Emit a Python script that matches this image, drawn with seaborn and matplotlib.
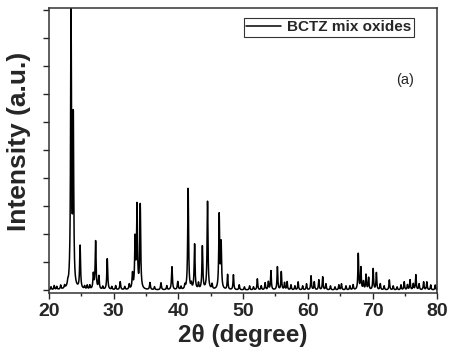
import numpy as np
import pandas as pd
import matplotlib
matplotlib.use('Agg')
import matplotlib.pyplot as plt
import seaborn as sns

pico_pos = [23.4, 23.75, 24.8, 26.85, 27.2, 27.7, 29.0, 31.0, 32.9, 33.3, 33.6, 34.1,
            35.6, 37.3, 39.0, 39.9, 41.5, 42.5, 43.7, 44.5, 46.3, 46.6]
pico_alt = [280, 168, 43, 15, 48, 13, 31, 8, 15, 49, 82, 84,
            7, 7, 23, 8, 101, 45, 43, 88, 74, 45]

ruido_pos = [20.3, 20.8, 21.2, 21.8, 22.4, 22.9, 25.5, 25.9, 26.3, 28.3, 29.7, 30.3,
             31.7, 32.4, 36.3, 38.2, 40.4, 41.0, 42.0, 43.1, 45.2, 47.6, 48.5, 49.4,
             50.2, 51.0, 51.6, 52.2, 52.8, 53.4, 53.9, 54.3, 55.3, 55.9, 56.4, 56.8,
             57.4, 58.0, 58.5, 59.2, 59.8, 60.5, 61.0, 61.7, 62.3, 62.8, 63.5, 64.2,
             64.8, 65.2, 65.9, 66.5, 67.0, 67.8, 68.2, 68.6, 69.0, 69.4, 70.1, 70.6,
             71.2, 71.8, 72.6, 73.2, 73.8, 74.4, 74.9, 75.4, 75.8, 76.3, 76.7, 77.2,
             77.9, 78.4, 79.0, 79.7]
ruido_alt = [3, 4, 3, 4, 3, 4, 3, 4, 4, 3, 3, 4,
             3, 5, 3, 4, 3, 4, 5, 6, 5, 15, 15, 5,
             3, 4, 3, 11, 4, 7, 8, 19, 23, 18, 7, 8,
             5, 4, 8, 4, 6, 14, 8, 10, 13, 6, 4, 3,
             5, 6, 4, 4, 5, 36, 22, 8, 15, 12, 21, 17,
             6, 4, 10, 4, 3, 5, 8, 5, 10, 6, 15, 6,
             8, 8, 5, 5]

BASE = 3
tth = np.arange(20, 80.001, 0.02)
inten = np.full_like(tth, BASE, dtype=float)
for p, h in zip(pico_pos, pico_alt):
    inten += h / (1 + ((tth - p) / 0.08) ** 2)
for p, h in zip(ruido_pos, ruido_alt):
    inten += h / (1 + ((tth - p) / 0.07) ** 2)
df = pd.DataFrame({'2theta': tth, 'I': inten})

# ── Gráfica ─────────────────────────────────────────────────────────────────
sns.set_style('ticks')
plt.rcParams['font.family'] = ['Liberation Sans', 'DejaVu Sans']

fig = plt.figure(figsize=(4.54, 3.51), dpi=100)
ax = fig.add_axes([0.108, 0.165, 0.855, 0.812])
sns.lineplot(data=df, x='2theta', y='I', color='black', linewidth=1.1,
             label='BCTZ mix oxides', ax=ax)

ax.set_xlim(20, 80)
ax.set_ylim(0, 285)
ax.set_xticks(range(20, 81, 10))
ax.set_xticks(range(25, 80, 10), minor=True)
ax.set_yticks(np.arange(BASE, 290, 28))
ax.set_yticklabels([])
ax.tick_params(axis='x', which='major', length=4, width=1, labelsize=14, pad=3)
ax.tick_params(axis='x', which='minor', length=2.5, width=1)
ax.tick_params(axis='y', length=4, width=1)
for lab in ax.get_xticklabels():
    lab.set_fontweight('bold')
for sp in ax.spines.values():
    sp.set_linewidth(1.1); sp.set_color('#333333')

ax.set_xlabel('2θ (degree)', fontsize=17.5, fontweight='bold', labelpad=3)
ax.set_ylabel('Intensity (a.u.)', fontsize=19, fontweight='bold')
ax.yaxis.set_label_coords(-0.047, 0.533)

leg = ax.legend(loc='upper right', bbox_to_anchor=(0.94, 0.965), fontsize=11,
                frameon=True, fancybox=False, edgecolor='black', handlelength=2.3,
                borderpad=0.15, handletextpad=0.4, borderaxespad=0)
leg.get_frame().set_linewidth(0.8)
for t in leg.get_texts():
    t.set_fontweight('bold')

ax.text(0.918, 0.747, '(a)', transform=ax.transAxes, fontsize=10.5, ha='center', va='center')

plt.savefig('out.png', dpi=100)
